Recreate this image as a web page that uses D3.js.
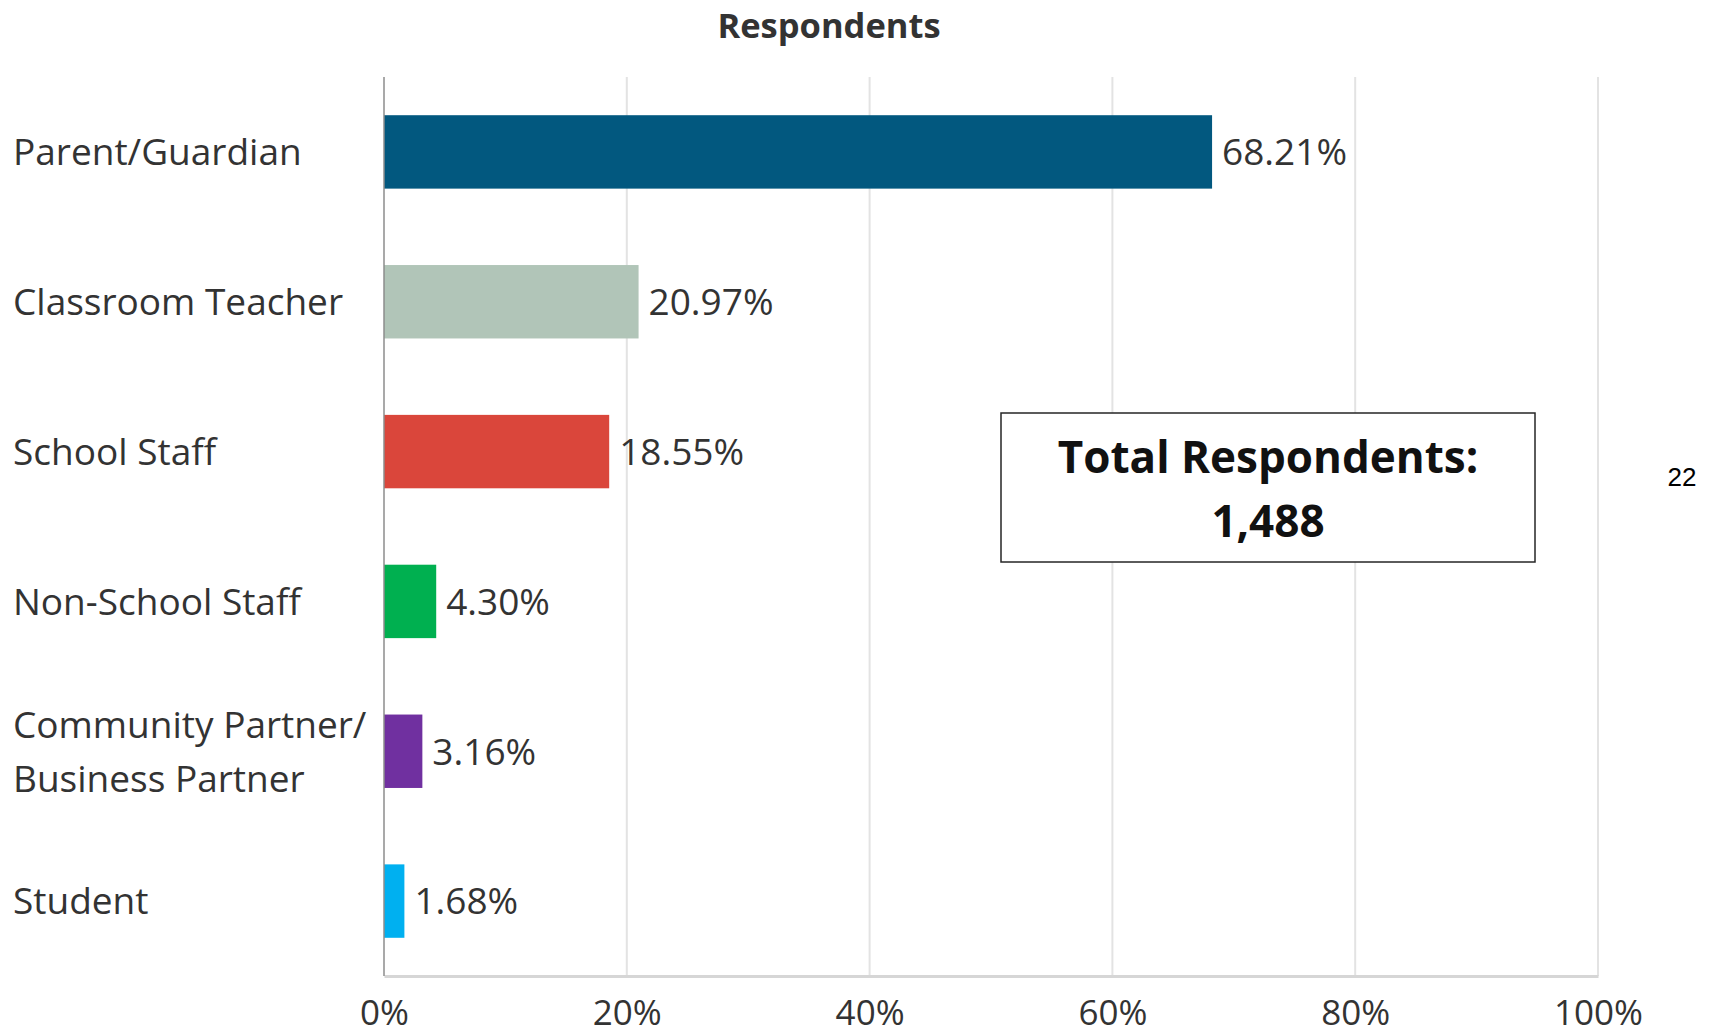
<!DOCTYPE html>
<html>
<head>
<meta charset="utf-8">
<script src="https://cdn.jsdelivr.net/npm/d3@7"></script>
<style>
  html, body { margin: 0; padding: 0; background: #ffffff; }
  svg { display: block; }
</style>
</head>
<body>
<svg id="chart" width="1715" height="1035"></svg>
<script>
// Respondent groups, share of all responses (%)
const categories = [
  "Parent/Guardian",
  "Classroom Teacher",
  "School Staff",
  "Non-School Staff",
  "Community Partner/\nBusiness Partner",
  "Student"
];
const shares = [68.21, 20.97, 18.55, 4.30, 3.16, 1.68];
const barColors = ["#02587f", "#b1c5b8", "#da463b", "#00b050", "#7030a0", "#00b0f0"];
const tickValues = [0, 20, 40, 60, 80, 100];
const totalRespondents = 1488;
const pageNumber = "22";

const svg = d3.select("#chart");
const font = "'Open Sans', Lato, sans-serif";
const textColor = "#333333";

const plot = { left: 384, right: 1598, top: 77, bottom: 976 };

const x = d3.scaleLinear().domain([0, 100]).range([plot.left, plot.right]);
const y = d3.scaleBand().domain(categories).range([plot.top, plot.bottom]).paddingInner(0.51).paddingOuter(0.255);

// Title
svg.append("text")
  .attr("x", 829).attr("y", 38)
  .attr("text-anchor", "middle")
  .attr("font-family", font).attr("font-weight", 700)
  .attr("font-size", 34.5).attr("fill", textColor)
  .text("Respondents");

// Vertical gridlines
svg.append("g")
  .selectAll("line")
  .data(tickValues.slice(1))
  .join("line")
  .attr("x1", d => x(d)).attr("x2", d => x(d))
  .attr("y1", plot.top).attr("y2", plot.bottom)
  .attr("stroke", "#e3e3e3").attr("stroke-width", 2);

// Bottom axis with percent tick labels
const xAxis = d3.axisBottom(x).tickValues(tickValues).tickSize(0).tickFormat(d => d + "%");
const gx = svg.append("g").attr("transform", `translate(0,${plot.bottom})`).call(xAxis);
gx.select(".domain").attr("stroke", "#d6d6d6").attr("stroke-width", 3);
gx.selectAll("text")
  .attr("font-family", font).attr("font-size", 35).attr("fill", textColor)
  .attr("dy", null).attr("y", 49);

// Bars
svg.append("g")
  .selectAll("rect")
  .data(categories)
  .join("rect")
  .attr("x", x(0))
  .attr("y", d => y(d))
  .attr("width", (d, i) => x(shares[i]) - x(0))
  .attr("height", y.bandwidth())
  .attr("fill", (d, i) => barColors[i]);

// Left axis line
svg.append("line")
  .attr("x1", x(0)).attr("x2", x(0))
  .attr("y1", plot.top).attr("y2", plot.bottom)
  .attr("stroke", "#8c8c8c").attr("stroke-width", 1.5);

// Value labels
svg.append("g")
  .selectAll("text")
  .data(categories)
  .join("text")
  .attr("x", (d, i) => x(shares[i]) + 10)
  .attr("y", d => y(d) + y.bandwidth() / 2)
  .attr("dy", "0.36em")
  .attr("font-family", font).attr("font-size", 37).attr("fill", textColor)
  .text((d, i) => shares[i].toFixed(2) + "%");

// Category labels (multi-line where needed)
const labelSize = 37;
const catLabels = svg.append("g")
  .selectAll("text")
  .data(categories)
  .join("text")
  .attr("x", 13)
  .attr("y", d => y(d) + y.bandwidth() / 2)
  .attr("font-family", font).attr("font-size", labelSize).attr("fill", textColor);

catLabels.each(function(d) {
  const lines = d.split("\n");
  const lineH = 54;
  const start = -(lines.length - 1) * lineH / 2;
  const t = d3.select(this);
  lines.forEach((ln, k) => {
    t.append("tspan")
      .attr("x", 13)
      .attr("dy", k === 0 ? (start / labelSize + 0.36) + "em" : lineH + "px")
      .text(ln);
  });
});

// Total respondents callout
const box = { x: 1001, y: 413, w: 534, h: 149 };
svg.append("rect")
  .attr("x", box.x).attr("y", box.y)
  .attr("width", box.w).attr("height", box.h)
  .attr("fill", "#ffffff").attr("stroke", "#262626").attr("stroke-width", 1.5);
svg.append("text")
  .attr("x", box.x + box.w / 2).attr("y", 473)
  .attr("text-anchor", "middle")
  .attr("font-family", font).attr("font-weight", 700)
  .attr("font-size", 44).attr("fill", "#111111")
  .text("Total Respondents:");
svg.append("text")
  .attr("x", box.x + box.w / 2).attr("y", 537)
  .attr("text-anchor", "middle")
  .attr("font-family", font).attr("font-weight", 700)
  .attr("font-size", 44).attr("fill", "#111111")
  .text(d3.format(",")(totalRespondents));

// Page number
svg.append("text")
  .attr("x", 1682).attr("y", 486)
  .attr("text-anchor", "middle")
  .attr("font-family", "'Liberation Sans', Arial, sans-serif")
  .attr("font-size", 26).attr("fill", "#000000")
  .text(pageNumber);
</script>
</body>
</html>
